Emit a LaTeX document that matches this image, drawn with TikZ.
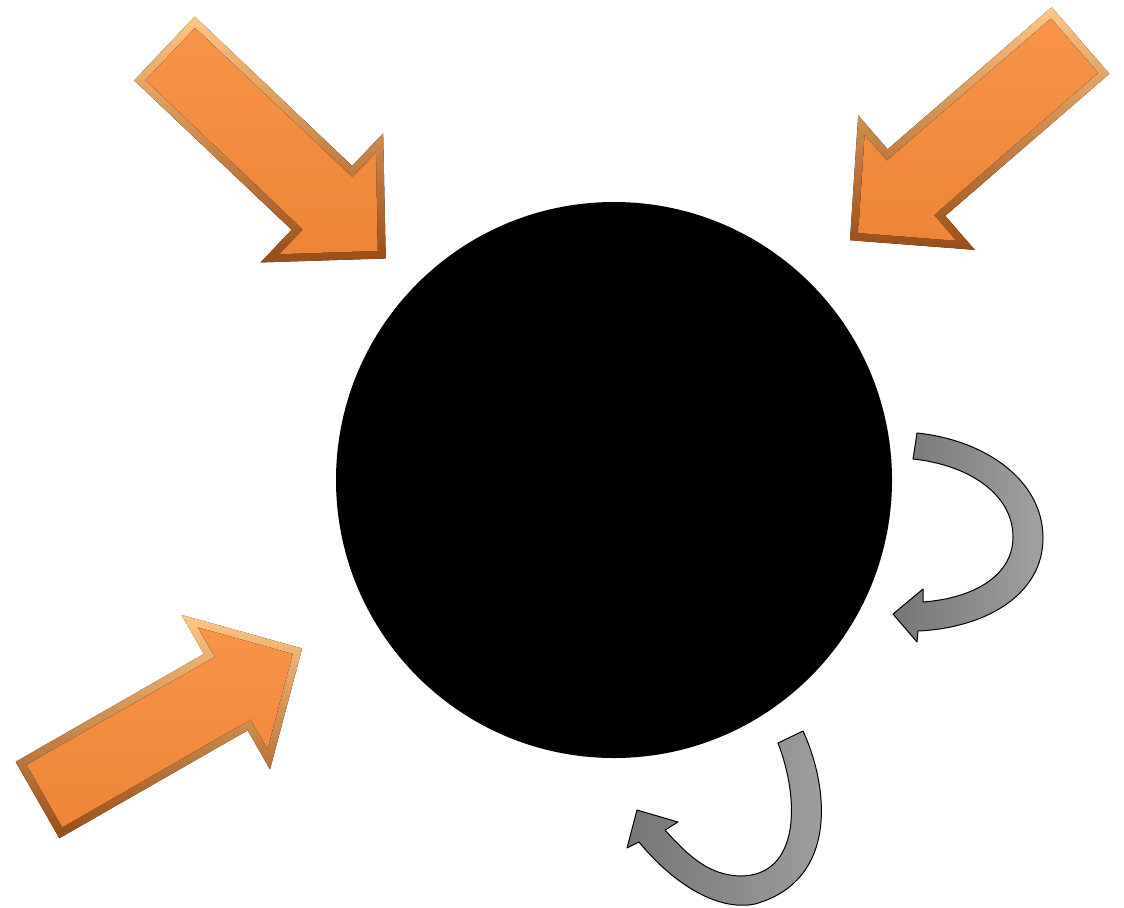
\documentclass[tikz,border=0pt]{standalone}
\usetikzlibrary{positioning}
\definecolor{o1}{rgb}{0.97, 0.54, 0.22}
\definecolor{o2}{rgb}{1.00, 0.78, 0.52}
\definecolor{o3}{rgb}{0.60, 0.30, 0.09}
\definecolor{g1}{rgb}{0.46, 0.46, 0.46}
\definecolor{g2}{rgb}{0.63, 0.63, 0.63}
\tikzset{
  core/.style={circle, fill=black, minimum size=278pt, inner sep=0pt},
  rim/.style={top color=o2, bottom color=o3},
  face/.style={top color=o1!92!white, bottom color=o1!96!black},
  turn/.style={left color=g1, right color=g2, draw=black, line width=0.5pt, line join=round},
  blockarrow/.pic={
    \fill[rim] (0,44) -- (217,44) -- (217,89) -- (305,0) -- (217,-89) -- (217,-44) -- (0,-44) -- cycle;
    \fill[face] (8,36) -- (225,36) -- (225,70) -- (294,0) -- (225,-70) -- (225,-36) -- (8,-36) -- cycle;
  },
}

\begin{document}
\begin{tikzpicture}[x=0.5pt, y=-0.5pt]
    \useasboundingbox (0,0) rectangle (1124,907);

    \node[core] (core) at (614,480) {};

    % orange arrows pointing in
    \pic[rotate=-43.5] at (164.5,48.5) {blockarrow};
    \pic[rotate=-139.1] at (1080.5,40.5) {blockarrow};
    \pic[rotate=29.8] at (37.5,800) {blockarrow};

    % gray curved arrows
    \draw[turn] (917,433) .. controls (985,440) and (1043,480) .. (1043,538)
        .. controls (1043,595) and (985,628) .. (918,631)
        -- (917,642) -- (893,614) -- (923,589) -- (923,602)
        .. controls (975,598) and (1013,575) .. (1013,537)
        .. controls (1013,495) and (970,465) .. (913,459) -- cycle;

    \draw[turn] (803,731) .. controls (828,785) and (840,880) .. (755,904)
        .. controls (715,912) and (670,880) .. (639,842)
        -- (627,848) -- (637,810) -- (678,822) -- (665,830)
        .. controls (690,858) and (710,875) .. (740,876)
        .. controls (800,876) and (800,800) .. (778,743) -- cycle;

  \end{tikzpicture}
\end{document}
